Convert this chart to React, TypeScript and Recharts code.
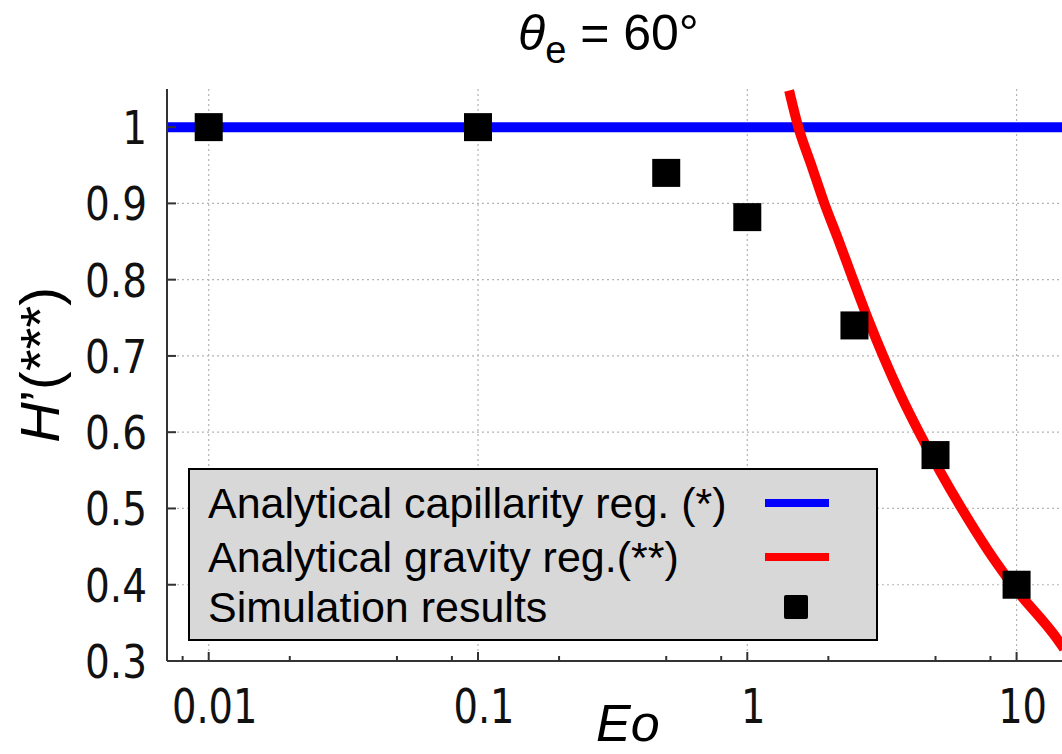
import React from "react";
import { ComposedChart, Line, Scatter, XAxis, YAxis, CartesianGrid, Legend } from "recharts";

const xTicks = [0.008, 0.01, 0.02, 0.05, 0.08, 0.1, 0.2, 0.5, 0.8, 1, 2, 5, 8, 10];
const xMajor = [0.01, 0.1, 1, 10];
const yTicks = [0.3, 0.4, 0.5, 0.6, 0.7, 0.8, 0.9, 1];

// analytical, capillarity regime (*)
const capillarity = [
  { eo: 0.007, h: 1 },
  { eo: 15, h: 1 },
];

// analytical, gravity regime (**)
const gravity = [
  { eo: 1.43, h: 1.048 },
  { eo: 1.547, h: 1.0 },
  { eo: 1.73, h: 0.95 },
  { eo: 1.933, h: 0.9 },
  { eo: 2.18, h: 0.852 },
  { eo: 2.478, h: 0.799 },
  { eo: 2.818, h: 0.747 },
  { eo: 3.204, h: 0.699 },
  { eo: 3.706, h: 0.649 },
  { eo: 4.359, h: 0.599 },
  { eo: 5.173, h: 0.55 },
  { eo: 6.3, h: 0.498 },
  { eo: 7.8, h: 0.446 },
  { eo: 9.745, h: 0.398 },
  { eo: 14.21, h: 0.328 },
  { eo: 15, h: 0.316 },
];

const simulation = [
  { eo: 0.01, h: 1.0 },
  { eo: 0.1, h: 1.0 },
  { eo: 0.5, h: 0.94 },
  { eo: 1, h: 0.882 },
  { eo: 2.5, h: 0.74 },
  { eo: 5, h: 0.57 },
  { eo: 10, h: 0.4 },
];

const legendItems = [
  { label: "Analytical capillarity reg. (*)", kind: "line", color: "#0000ff" },
  { label: "Analytical gravity reg.(**)", kind: "line", color: "#ff0000" },
  { label: "Simulation results", kind: "square", color: "#000000" },
];

const AXIS = "#333";
const TICK_FONT = "'DejaVu Sans', sans-serif";
const TEXT_FONT = "'Liberation Sans', Arial, sans-serif";

function BottomTick({ x, y, payload }: any) {
  const major = xMajor.includes(payload.value);
  return (
    <g>
      <line x1={x} x2={x} y1={y} y2={y - (major ? 9 : 5)} stroke={AXIS} strokeWidth={2} />
      {major && (
        <text
          transform={`translate(${x + 6},${y + 62}) scale(0.8,1)`}
          textAnchor="middle"
          fontSize={48}
          fontFamily={TICK_FONT}
          fill="#111"
        >
          {String(payload.value)}
        </text>
      )}
    </g>
  );
}

function TopTick({ x, y, payload }: any) {
  const major = xMajor.includes(payload.value);
  return <line x1={x} x2={x} y1={y} y2={y + (major ? 9 : 5)} stroke={AXIS} strokeWidth={2} />;
}

function LeftTick({ x, y, payload }: any) {
  return (
    <g>
      <line x1={x} x2={x + 9} y1={y} y2={y} stroke={AXIS} strokeWidth={2} />
      <text
        transform={`translate(${x - 20},${y + 17}) scale(0.83,1)`}
        textAnchor="end"
        fontSize={47}
        fontFamily={TICK_FONT}
        fill="#111"
      >
        {String(payload.value)}
      </text>
    </g>
  );
}

function RightTick({ x, y }: any) {
  return <line x1={x} x2={x - 9} y1={y} y2={y} stroke={AXIS} strokeWidth={2} />;
}

function SquareDot({ cx, cy }: any) {
  return <rect x={cx - 14} y={cy - 14} width={28} height={28} fill="#000" />;
}

function LegendBox() {
  const centers = [33, 87, 137];
  return (
    <div
      style={{
        position: "relative",
        width: 690,
        height: 173,
        boxSizing: "border-box",
        border: "2px solid #000",
        background: "#d8d8d8",
        fontFamily: TEXT_FONT,
        fontSize: 43,
        color: "#000",
      }}
    >
      {legendItems.map((item, i) => (
        <React.Fragment key={item.label}>
          <div
            style={{
              position: "absolute",
              left: 18,
              top: centers[i] - 26,
              height: 52,
              lineHeight: "52px",
              whiteSpace: "nowrap",
            }}
          >
            {item.label}
          </div>
          {item.kind === "line" ? (
            <div
              style={{
                position: "absolute",
                left: 575,
                top: centers[i] - 4,
                width: 64,
                height: 8,
                background: item.color,
              }}
            />
          ) : (
            <div
              style={{
                position: "absolute",
                left: 594,
                top: centers[i] - 12,
                width: 24,
                height: 24,
                borderRadius: 2,
                background: item.color,
              }}
            />
          )}
        </React.Fragment>
      ))}
    </div>
  );
}

export default function App() {
  return (
    <div
      style={{
        position: "fixed",
        left: 0,
        top: 0,
        width: 1062,
        height: 754,
        overflow: "hidden",
        background: "#fff",
      }}
    >
      <ComposedChart width={1070} height={754} margin={{ top: 89, right: 6, bottom: 0, left: 0 }}>
        <CartesianGrid
          stroke="#b4b4b4"
          strokeWidth={1.2}
          strokeDasharray="2 3"
          verticalValues={xMajor}
          horizontalValues={yTicks}
        />
        <XAxis
          dataKey="eo"
          type="number"
          scale="log"
          domain={[0.007, 15]}
          allowDataOverflow
          ticks={xTicks}
          interval={0}
          height={93}
          tickSize={0}
          tickMargin={0}
          tickLine={false}
          axisLine={{ stroke: AXIS, strokeWidth: 2 }}
          tick={<BottomTick />}
        />
        <XAxis
          xAxisId="top"
          orientation="top"
          dataKey="eo"
          type="number"
          scale="log"
          domain={[0.007, 15]}
          allowDataOverflow
          ticks={xTicks}
          interval={0}
          height={0}
          tickSize={0}
          tickMargin={0}
          tickLine={false}
          axisLine={{ stroke: AXIS, strokeWidth: 2 }}
          tick={<TopTick />}
        />
        <YAxis
          type="number"
          domain={[0.3, 1.05]}
          allowDataOverflow
          ticks={yTicks}
          interval={0}
          width={167}
          tickSize={0}
          tickMargin={0}
          tickLine={false}
          axisLine={{ stroke: AXIS, strokeWidth: 2 }}
          tick={<LeftTick />}
        />
        <YAxis
          yAxisId="right"
          orientation="right"
          type="number"
          domain={[0.3, 1.05]}
          allowDataOverflow
          ticks={yTicks}
          interval={0}
          width={0}
          tickSize={0}
          tickMargin={0}
          tickLine={false}
          axisLine={{ stroke: AXIS, strokeWidth: 2 }}
          tick={<RightTick />}
        />
        <Line
          data={capillarity}
          dataKey="h"
          stroke="#0000ff"
          strokeWidth={10}
          dot={false}
          activeDot={false}
          isAnimationActive={false}
        />
        <Line
          data={gravity}
          dataKey="h"
          type="monotone"
          stroke="#ff0000"
          strokeWidth={10}
          dot={false}
          activeDot={false}
          isAnimationActive={false}
        />
        <Scatter data={simulation} dataKey="h" fill="#000" shape={<SquareDot />} isAnimationActive={false} />
        <Legend
          layout="vertical"
          align="center"
          verticalAlign="middle"
          wrapperStyle={{ left: 188, top: 468, width: 690, height: 173 }}
          content={() => <LegendBox />}
        />
      </ComposedChart>
      <svg
        width={1062}
        height={754}
        style={{ position: "absolute", left: 0, top: 0, pointerEvents: "none" }}
      >
        <text x={518} y={50} fontFamily={TEXT_FONT} fontSize={50} fill="#000">
          <tspan fontStyle="italic">θ</tspan>
          <tspan fontSize={38} dy={13}>e</tspan>
          <tspan dy={-13}> = 60°</tspan>
        </text>
        <text
          transform="translate(59,365) rotate(-90)"
          textAnchor="middle"
          fontFamily={TEXT_FONT}
          fontSize={56}
          fill="#000"
        >
          <tspan fontStyle="italic">H</tspan>’(***)
        </text>
        <text x={596} y={741} fontFamily={TEXT_FONT} fontSize={52} fontStyle="italic" fill="#000">
          Eo
        </text>
      </svg>
    </div>
  );
}
